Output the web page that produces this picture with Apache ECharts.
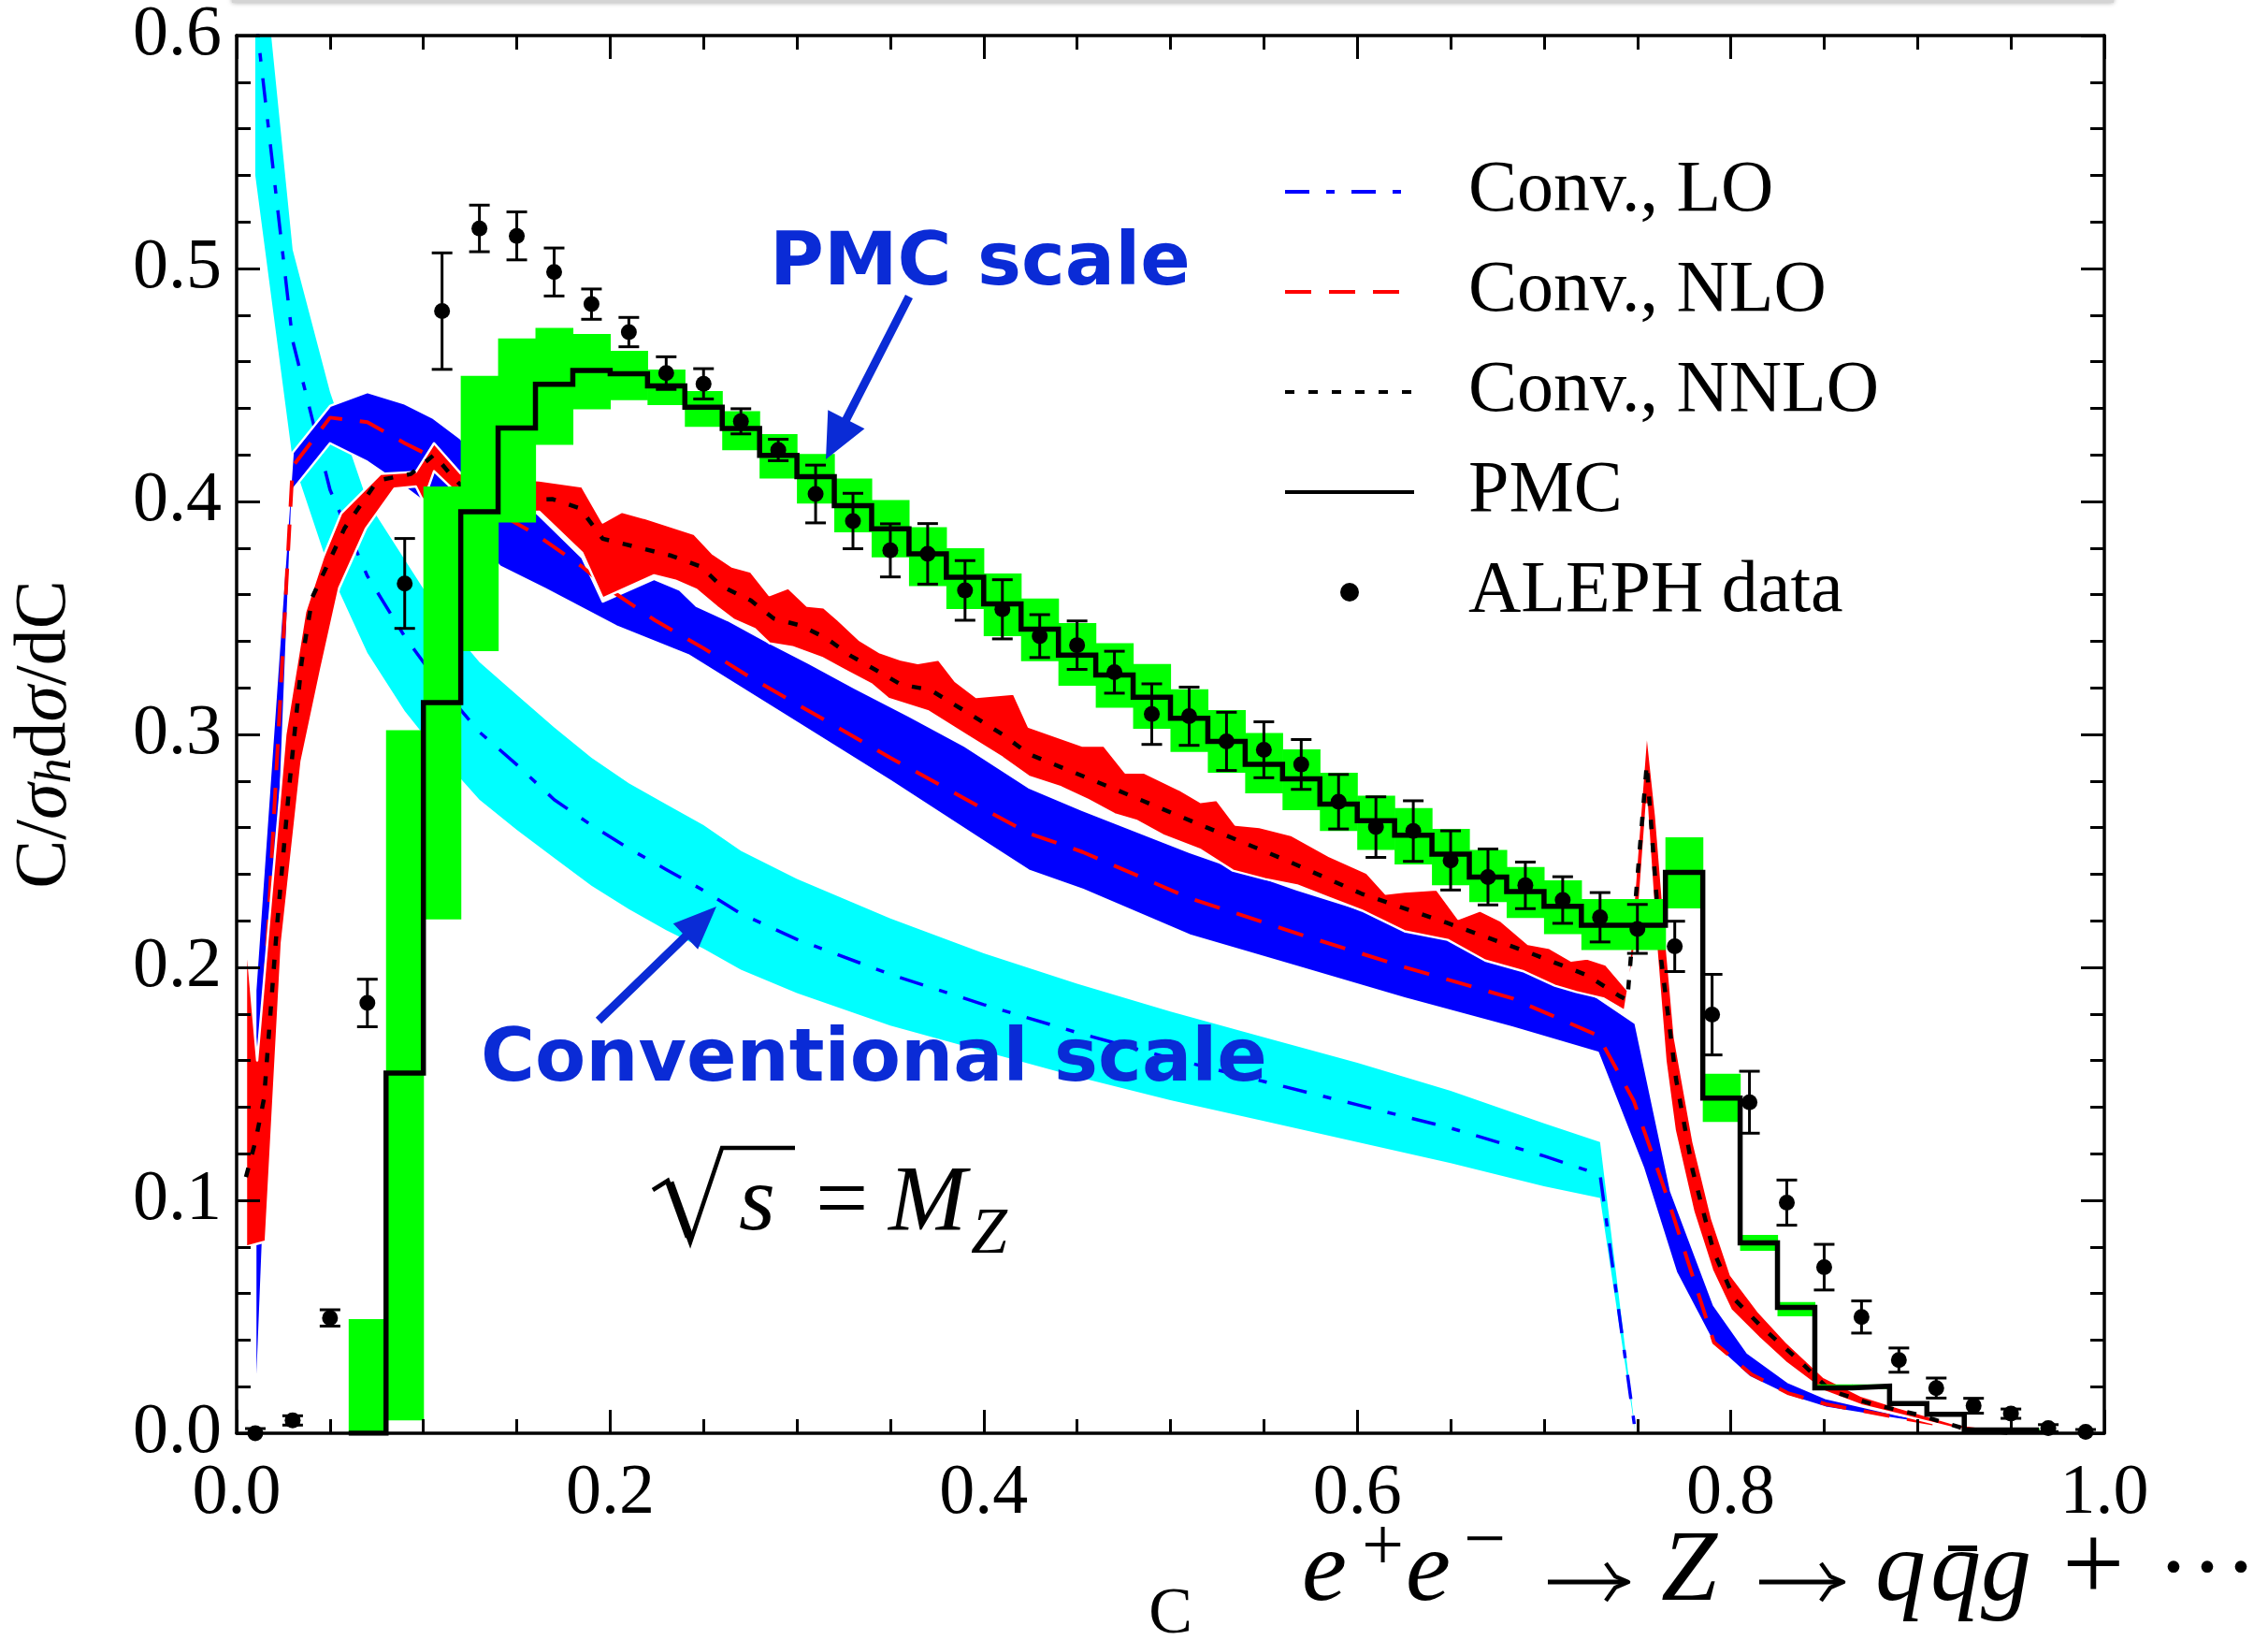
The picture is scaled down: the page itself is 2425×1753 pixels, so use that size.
<!DOCTYPE html>
<html><head><meta charset="utf-8">
<script src="https://cdn.jsdelivr.net/npm/echarts@6/dist/echarts.min.js"></script>
<style>html,body{margin:0;padding:0;background:#fff}#c{width:2425px;height:1753px}</style>
</head><body><div id="c"></div>
<script>
// ---------------- DATA ----------------
const xRange = [0, 1.0], yRange = [0, 0.6];
const xTickStep = 0.2, yTickStep = 0.1;

// Conventional LO (cyan band, blue dash-dot)
const loX = [0.01,0.03,0.05,0.07,0.09,0.11,0.13,0.15,0.17,0.19,0.21,0.23,0.25,0.27,0.30,0.35,0.40,0.45,0.50,0.55,0.60,0.65,0.70,0.73,0.749];
const loC = [0.61,0.469,0.405,0.368,0.342,0.320,0.301,0.287,0.272,0.261,0.251,0.242,0.233,0.223,0.212,0.197,0.184,0.172,0.161,0.151,0.141,0.131,0.119,0.111,0.0];
const loU = [0.668,0.508,0.447,0.40,0.375,0.35,0.331,0.317,0.303,0.29,0.279,0.27,0.261,0.25,0.238,0.221,0.206,0.193,0.181,0.170,0.159,0.147,0.133,0.125,0.0];
const loL = [0.54,0.418,0.370,0.335,0.31,0.29,0.272,0.259,0.247,0.235,0.225,0.216,0.208,0.199,0.189,0.175,0.164,0.153,0.143,0.134,0.125,0.116,0.106,0.101,0.0];

// Conventional NLO (blue band, red dashed)
const nloCX = [0.01,0.03,0.05,0.07,0.09,0.10,0.12,0.14,0.16,0.185,0.20,0.224,0.25,0.274,0.30,0.35,0.40,0.424,0.453,0.51,0.568,0.625,0.683,0.729,0.748,0.766,0.791,0.811,0.831,0.851,0.889,0.923,0.95];
const nloCY = [0.115,0.415,0.436,0.434,0.425,0.421,0.407,0.395,0.386,0.372,0.362,0.349,0.337,0.325,0.313,0.29,0.268,0.2576,0.2495,0.2298,0.2145,0.2002,0.1867,0.1707,0.1428,0.1013,0.039,0.0253,0.0171,0.0125,0.0068,0.0022,0.0005];
const nloUX = [0.01,0.03,0.05,0.07,0.09,0.105,0.12,0.14,0.162,0.185,0.196,0.2235,0.2373,0.2462,0.2629,0.2842,0.3066,0.3311,0.36,0.39,0.4241,0.4529,0.5104,0.5678,0.6253,0.6828,0.7288,0.749,0.768,0.791,0.809,0.831,0.851,0.889,0.923,0.95];
const nloUY = [0.19,0.421,0.441,0.447,0.442,0.436,0.427,0.41,0.394,0.376,0.357,0.3667,0.3621,0.3552,0.3491,0.3398,0.3306,0.3199,0.308,0.295,0.2773,0.2675,0.2495,0.2334,0.219,0.2065,0.187,0.176,0.104,0.055,0.0345,0.0218,0.015,0.008,0.003,0.001];
const nloLX = [0.01,0.03,0.05,0.07,0.09,0.10,0.12,0.141,0.165,0.2034,0.2418,0.30,0.35,0.40,0.4241,0.4529,0.5104,0.5678,0.6253,0.6828,0.7288,0.753,0.7707,0.791,0.81,0.831,0.851,0.889,0.923,0.95];
const nloLY = [0.0,0.405,0.425,0.417,0.406,0.400,0.39,0.372,0.3625,0.3463,0.334,0.305,0.28,0.254,0.2415,0.2334,0.2137,0.2002,0.1867,0.1742,0.1634,0.114,0.069,0.038,0.0241,0.016,0.011,0.006,0.002,0.0];

// Conventional NNLO (red band, black dotted)
const nnloCX = [0.005,0.01,0.0147,0.0214,0.0281,0.0348,0.0406,0.0578,0.0755,0.0933,0.1057,0.1153,0.12,0.14,0.169,0.184,0.196,0.2328,0.2484,0.2596,0.2753,0.2875,0.3021,0.3155,0.3289,0.3423,0.3557,0.3714,0.39,0.41,0.4241,0.4759,0.519,0.5621,0.6023,0.6484,0.6915,0.7231,0.7404,0.7446,0.755,0.7628,0.7707,0.7796,0.7907,0.802,0.8176,0.8354,0.8533,0.8757,0.90,0.925,0.95];
const nnloCY = [0.11,0.125,0.1438,0.2155,0.277,0.331,0.359,0.3885,0.409,0.4118,0.42,0.4109,0.407,0.40,0.401,0.397,0.384,0.3767,0.3721,0.3636,0.3575,0.3498,0.3467,0.3414,0.3337,0.3276,0.3214,0.3191,0.31,0.30,0.2916,0.2746,0.2602,0.2459,0.2316,0.219,0.2065,0.1966,0.1877,0.186,0.287,0.2028,0.152,0.1128,0.0783,0.0575,0.0448,0.0321,0.0183,0.0125,0.008,0.002,0.0];
const nnloUX = [0.005,0.011,0.0175,0.0261,0.0367,0.0463,0.0559,0.077,0.096,0.1057,0.12,0.14,0.162,0.185,0.196,0.2063,0.218,0.2451,0.2551,0.2652,0.2753,0.2853,0.2954,0.3055,0.3144,0.3222,0.3334,0.3445,0.3557,0.3647,0.3759,0.3848,0.396,0.4161,0.4241,0.4529,0.4644,0.4759,0.486,0.5046,0.5161,0.5248,0.5348,0.5477,0.565,0.5851,0.6052,0.6153,0.6253,0.6426,0.6541,0.6656,0.6771,0.6915,0.703,0.7145,0.7231,0.7331,0.7446,0.75,0.755,0.76,0.765,0.77,0.78,0.79,0.80,0.815,0.83,0.85,0.87,0.89,0.92,0.95];
const nnloUY = [0.215,0.16,0.2206,0.30,0.3526,0.376,0.3948,0.4118,0.4127,0.425,0.412,0.41,0.409,0.4064,0.391,0.3956,0.393,0.386,0.3775,0.3721,0.3699,0.3598,0.3629,0.3552,0.3545,0.3491,0.3406,0.3352,0.3321,0.3306,0.3321,0.3229,0.3161,0.3175,0.3033,0.2952,0.2952,0.2836,0.2836,0.2764,0.271,0.2719,0.2612,0.2602,0.2567,0.2477,0.2405,0.2316,0.2325,0.2334,0.2209,0.2244,0.2199,0.21,0.2083,0.2029,0.2038,0.2012,0.1904,0.25,0.303,0.265,0.215,0.17,0.125,0.092,0.068,0.052,0.039,0.024,0.016,0.011,0.004,0.001];
const nnloLX = [0.005,0.0156,0.0242,0.0348,0.0453,0.0549,0.0693,0.0845,0.096,0.10,0.1057,0.12,0.14,0.162,0.185,0.196,0.2235,0.235,0.2462,0.2574,0.2663,0.2774,0.2853,0.2976,0.3133,0.3255,0.34,0.349,0.37,0.39,0.41,0.4241,0.4414,0.4557,0.4701,0.4816,0.496,0.5161,0.5334,0.5506,0.5678,0.5851,0.6024,0.6253,0.6484,0.6685,0.6886,0.7058,0.7173,0.7317,0.7432,0.75,0.755,0.76,0.765,0.77,0.78,0.79,0.80,0.815,0.83,0.85,0.87,0.89,0.92,0.95];
const nnloLY = [0.08,0.0823,0.2104,0.2885,0.3282,0.3628,0.3885,0.4055,0.4064,0.40,0.413,0.402,0.395,0.3956,0.378,0.3584,0.3683,0.366,0.3621,0.3545,0.3491,0.3452,0.3391,0.3375,0.3329,0.3276,0.3214,0.3153,0.31,0.30,0.29,0.2819,0.2773,0.2719,0.2657,0.263,0.2567,0.2504,0.2415,0.2379,0.2352,0.2298,0.2244,0.2155,0.2118,0.2029,0.1984,0.1921,0.1894,0.1867,0.1813,0.215,0.27,0.21,0.16,0.13,0.095,0.07,0.053,0.041,0.03,0.018,0.012,0.008,0.002,0.0];

// PMC histogram (bin edges, central values, uncertainty band)
const pmcEdges = [0.06,0.08,0.10,0.12,0.14,0.16,0.18,0.20,0.22,0.24,0.26,0.28,0.30,0.32,0.34,0.36,0.38,0.40,0.42,0.44,0.46,0.48,0.50,0.52,0.54,0.56,0.58,0.60,0.62,0.64,0.66,0.68,0.70,0.72,0.765,0.785,0.805,0.825,0.845,0.865,0.885,0.905,0.925,0.965];
const pmcVals = [0.0,0.1546,0.3137,0.3956,0.4315,0.4503,0.4562,0.4548,0.4496,0.4405,0.4313,0.4198,0.4106,0.3982,0.3883,0.3775,0.3675,0.356,0.3452,0.334,0.3255,0.316,0.3069,0.297,0.2871,0.2809,0.2701,0.263,0.2567,0.2486,0.2388,0.2325,0.2262,0.2181,0.2408,0.1439,0.0817,0.054,0.0195,0.0202,0.0128,0.0081,0.0014];
const pmcLo = [0,0.0055,0.2206,0.3357,0.391,0.4243,0.4396,0.4435,0.4414,0.432,0.422,0.4098,0.3991,0.3867,0.376,0.3637,0.3538,0.3422,0.3314,0.3209,0.3114,0.3024,0.2925,0.2835,0.2747,0.2675,0.2585,0.2504,0.2442,0.2352,0.228,0.2212,0.2143,0.2074,0.2253,0.1336,0.0783,0.0502,0.0185,0.019,0.012,0.0075,0.001];
const pmcHi = [0.049,0.3018,0.4064,0.4539,0.47,0.4745,0.4719,0.4647,0.4566,0.4474,0.4388,0.4289,0.4204,0.4098,0.4006,0.389,0.3799,0.3691,0.3583,0.3478,0.3392,0.3302,0.3194,0.3104,0.3006,0.2936,0.2835,0.2737,0.2684,0.2594,0.2504,0.2431,0.2373,0.2293,0.2558,0.1543,0.0851,0.0563,0.021,0.021,0.0135,0.0088,0.002];

// ALEPH data
const dataC = [0.01,0.03,0.05,0.07,0.09,0.11,0.13,0.15,0.17,0.19,0.21,0.23,0.25,0.27,0.29,0.31,0.33,0.35,0.37,0.39,0.41,0.43,0.45,0.47,0.49,0.51,0.53,0.55,0.57,0.59,0.61,0.63,0.65,0.67,0.69,0.71,0.73,0.75,0.77,0.79,0.81,0.83,0.85,0.87,0.89,0.91,0.93,0.95,0.97,0.99];
const dataV = [0.0,0.0055,0.0495,0.1847,0.3648,0.4817,0.5172,0.514,0.4985,0.4847,0.4727,0.4551,0.4505,0.4344,0.4221,0.4032,0.3916,0.379,0.3775,0.3618,0.3537,0.3422,0.3383,0.3267,0.3087,0.3078,0.297,0.2934,0.2871,0.2711,0.2602,0.2585,0.2459,0.2388,0.2352,0.2289,0.2215,0.2165,0.209,0.1797,0.1421,0.099,0.0713,0.0499,0.0314,0.0194,0.0118,0.0084,0.0022,0.0006];
const dataErr = [0.002,0.002,0.0035,0.0102,0.0193,0.025,0.010,0.0103,0.0103,0.0065,0.0063,0.007,0.0065,0.0054,0.0046,0.0124,0.0119,0.0114,0.013,0.0128,0.0127,0.0092,0.0104,0.009,0.013,0.0125,0.0125,0.012,0.0107,0.0117,0.013,0.013,0.0127,0.012,0.010,0.010,0.0106,0.0105,0.0108,0.0173,0.0133,0.0097,0.0098,0.0069,0.0052,0.0043,0.0032,0.002,0.0015,0.001];

const legendNames = ['Conv., LO','Conv., NLO','Conv., NNLO','PMC','ALEPH data'];

// ---------------- STYLE ----------------
const SERIF = 'Liberation Serif';
const ANNO = '#0a2bd6';
const zip = (xs, ys) => xs.map((x, i) => [x, ys[i]]);

function bandSeries(name, xU, yU, xL, yL, fill, stroke, z) {
  const pts = zip(xU, yU).concat(zip(xL, yL).reverse());
  return {
    type: 'custom', name: name, z: z, clip: true, silent: true,
    data: pts,
    encode: {x: 0, y: 1},
    renderItem: function (params, api) {
      if (params.dataIndex !== 0) return null;
      const poly = pts.map(p => api.coord(p));
      return {type: 'polygon', shape: {points: poly},
        style: {fill: fill, stroke: stroke || null, lineWidth: stroke ? 2.5 : 0, lineJoin: 'round'}};
    }
  };
}

function axisCommon(extra) {
  return Object.assign({
    type: 'value',
    z: 20,
    axisLine: {onZero: false, lineStyle: {color: '#000', width: 3.5}},
    axisTick: {inside: true, length: 25, lineStyle: {color: '#000', width: 3}},
    minorTick: {show: true, length: 15, lineStyle: {color: '#000', width: 3}},
    splitLine: {show: false}, minorSplitLine: {show: false}
  }, extra);
}

const pmcStep = pmcVals.map((v, i) => [pmcEdges[i], v]).concat([[pmcEdges[pmcEdges.length - 1], pmcVals[pmcVals.length - 1]]]);
const pmcBins = pmcVals.map((v, i) => [pmcEdges[i], pmcEdges[i + 1], pmcLo[i], pmcHi[i]]);
const errRows = dataC.map((c, i) => [c, dataV[i], dataErr[i]]);

// arrow helper (annotation geometry, pixel space)
function arrow(x1, y1, x2, y2, shaftW, headL, headW) {
  const dx = x2 - x1, dy = y2 - y1, L = Math.hypot(dx, dy);
  const ux = dx / L, uy = dy / L, nx = -uy, ny = ux;
  const bx = x2 - ux * headL, by = y2 - uy * headL;
  const h = shaftW / 2, w = headW / 2;
  return {type: 'polygon', z: 50, shape: {points: [
    [x1 + nx * h, y1 + ny * h], [bx + nx * h, by + ny * h], [bx + nx * w, by + ny * w], [x2, y2],
    [bx - nx * w, by - ny * w], [bx - nx * h, by - ny * h], [x1 - nx * h, y1 - ny * h]]},
    style: {fill: ANNO}};
}
// thin math arrow "→"
function mathArrow(x1, x2, y) {
  return {type: 'group', z: 50, children: [
    {type: 'line', z: 50, shape: {x1: x1, y1: y, x2: x2 - 3, y2: y}, style: {stroke: '#000', lineWidth: 5}},
    {type: 'polyline', z: 50, shape: {points: [[x2 - 24, y - 20], [x2 - 14, y - 6], [x2, y], [x2 - 14, y + 6], [x2 - 24, y + 20]]},
      style: {stroke: '#000', lineWidth: 4.5, fill: null, lineJoin: 'round'}}
  ]};
}
function txt(text, x, y, size, opts) {
  opts = opts || {};
  return {type: 'text', x: x, y: y, z: 50, style: Object.assign({
    text: text, fill: '#000', fontFamily: SERIF, fontSize: size,
    textAlign: 'left', textVerticalAlign: 'middle', align: 'left', verticalAlign: 'middle'}, opts)};
}

const graphics = [
  {type: 'rect', z: 0, shape: {x: 248, y: -20, width: 2012, height: 23}, style: {fill: '#d4d4d4', shadowBlur: 5, shadowColor: 'rgba(0,0,0,0.35)'}},
  txt('PMC scale', 823, 283, 79, {fill: ANNO, fontFamily: 'DejaVu Sans', fontWeight: 'bold'}),
  txt('Conventional scale', 514, 1134, 79, {fill: ANNO, fontFamily: 'DejaVu Sans', fontWeight: 'bold'}),
  arrow(972, 317, 883, 491, 9, 48, 44),
  arrow(640, 1091, 766, 969, 9, 46, 38),
  // sqrt(s) = M_Z
  {type: 'polyline', z: 50, shape: {points: [[698, 1272], [714, 1262], [738, 1328], [772, 1227], [850, 1227]]}, style: {stroke: '#000', lineWidth: 4.5, fill: null, lineJoin: 'miter'}},
  {type: 'polyline', z: 50, shape: {points: [[716, 1264], [737, 1322]]}, style: {stroke: '#000', lineWidth: 9, fill: null}},
  txt('s', 790, 1288, 100, {fontStyle: 'italic'}),
  txt('=', 872, 1288, 100),
  txt('M', 950, 1288, 100, {fontStyle: 'italic'}),
  txt('Z', 1038, 1321, 70, {fontStyle: 'italic'}),
  // e+e- -> Z -> q qbar g + ...
  txt('e', 1392, 1682, 108, {fontStyle: 'italic'}),
  txt('+', 1456, 1657, 80),
  txt('e', 1503, 1682, 108, {fontStyle: 'italic'}),
  txt('\u2212', 1565, 1650, 80),
  mathArrow(1655, 1741, 1691),
  txt('Z', 1776, 1682, 108, {fontStyle: 'italic'}),
  mathArrow(1881, 1971, 1691),
  txt('q', 2005, 1682, 108, {fontStyle: 'italic'}),
  txt('q', 2064, 1682, 108, {fontStyle: 'italic'}),
  {type: 'line', z: 50, shape: {x1: 2083, y1: 1655, x2: 2114, y2: 1655}, style: {stroke: '#000', lineWidth: 6}},
  txt('g', 2118, 1682, 108, {fontStyle: 'italic'}),
  txt('+', 2205, 1680, 118),
  txt('\u00b7\u00b7\u00b7', 2306, 1682, 108)
];

const option = {
  animation: false,
  backgroundColor: '#fff',
  grid: {left: 253, top: 38, right: 175, bottom: 221, containLabel: false, outerBoundsMode: 'none'},
  xAxis: [
    axisCommon({min: xRange[0], max: xRange[1], interval: xTickStep, position: 'bottom',
      minorTick: {show: true, splitNumber: 4, length: 15, lineStyle: {color: '#000', width: 3}},
      name: 'C', nameLocation: 'middle', nameGap: 160,
      nameTextStyle: {fontFamily: SERIF, fontSize: 70, color: '#000'},
      axisLabel: {fontFamily: SERIF, fontSize: 76, color: '#000', margin: 27, formatter: v => v.toFixed(1)}}),
    axisCommon({min: xRange[0], max: xRange[1], interval: xTickStep, position: 'top',
      minorTick: {show: true, splitNumber: 4, length: 15, lineStyle: {color: '#000', width: 3}},
      axisLabel: {show: false}})
  ],
  yAxis: [
    axisCommon({min: yRange[0], max: yRange[1], interval: yTickStep, position: 'left',
      minorTick: {show: true, splitNumber: 5, length: 15, lineStyle: {color: '#000', width: 3}},
      name: '{n|C/}{i|σ}{s|h}{n|d}{i|σ}{n|/dC}', nameLocation: 'middle', nameRotate: 90, nameGap: 165,
      nameTextStyle: {fontFamily: SERIF, fontSize: 78, color: '#000', rich: {
        n: {fontFamily: SERIF, fontSize: 78, lineHeight: 78, verticalAlign: 'top'},
        i: {fontFamily: SERIF, fontSize: 78, lineHeight: 78, fontStyle: 'italic', verticalAlign: 'top'},
        s: {fontFamily: SERIF, fontSize: 54, lineHeight: 54, fontStyle: 'italic', verticalAlign: 'bottom', padding: [48, 0, 0, 0]}
      }},
      axisLabel: {fontFamily: SERIF, fontSize: 76, color: '#000', margin: 16, formatter: v => v.toFixed(1)}}),
    axisCommon({min: yRange[0], max: yRange[1], interval: yTickStep, position: 'right',
      minorTick: {show: true, splitNumber: 5, length: 15, lineStyle: {color: '#000', width: 3}},
      axisLabel: {show: false}})
  ],
  legend: {
    orient: 'vertical', left: 1367, top: 161, itemWidth: 138, itemHeight: 20, itemGap: 29,
    selectedMode: false,
    textStyle: {fontFamily: SERIF, fontSize: 78, color: '#000', lineHeight: 78, padding: [0, 0, 0, 53]},
    lineStyle: {width: 4},
    itemStyle: {opacity: 0},
    data: [
      {name: legendNames[0]}, {name: legendNames[1]}, {name: legendNames[2]}, {name: legendNames[3]},
      {name: legendNames[4], icon: 'circle', itemStyle: {opacity: 1, color: '#000'}}
    ]
  },
  graphic: graphics,
  series: [
    bandSeries('LO band', loX, loU, loX, loL, '#00ffff', null, 1),
    {type: 'line', name: legendNames[0], z: 2, data: zip(loX, loC), symbol: 'none', showSymbol: false,
      lineStyle: {color: '#0000ff', width: 3.5, type: [26, 18, 9, 18]}, itemStyle: {color: '#0000ff'}},
    bandSeries('NLO band', nloUX, nloUY, nloLX, nloLY, '#0000ff', '#ffffff', 3),
    {type: 'line', name: legendNames[1], z: 4, data: zip(nloCX, nloCY), symbol: 'none', showSymbol: false,
      lineStyle: {color: '#ff0000', width: 4, type: [28, 19]}, itemStyle: {color: '#ff0000'}},
    bandSeries('NNLO band', nnloUX, nnloUY, nnloLX, nnloLY, '#ff0000', '#ffffff', 5),
    {type: 'line', name: legendNames[2], z: 6, data: zip(nnloCX, nnloCY), symbol: 'none', showSymbol: false,
      lineStyle: {color: '#000000', width: 4.5, type: [10, 15]}, itemStyle: {color: '#000'}},
    {type: 'custom', name: 'PMC band', z: 7, clip: true, silent: true, data: pmcBins,
      encode: {x: [0, 1], y: [2, 3]},
      renderItem: function (params, api) {
        const a = api.coord([api.value(0), api.value(3)]);
        const b = api.coord([api.value(1), api.value(2)]);
        return {type: 'rect', shape: {x: a[0], y: a[1], width: b[0] - a[0] + 0.6, height: b[1] - a[1]},
          style: {fill: '#00ff00'}};
      }},
    {type: 'line', name: legendNames[3], z: 8, data: pmcStep, step: 'end', symbol: 'none', showSymbol: false,
      lineStyle: {color: '#000', width: 5.5, join: 'miter'}, itemStyle: {color: '#000'}},
    {type: 'custom', name: 'ALEPH errors', z: 29, clip: true, silent: true, data: errRows,
      encode: {x: 0, y: 1},
      renderItem: function (params, api) {
        const x = api.value(0), v = api.value(1), e = api.value(2);
        const t = api.coord([x, v + e]), b = api.coord([x, v - e]);
        const hw = 11, st = {stroke: '#000', lineWidth: 3};
        return {type: 'group', children: [
          {type: 'line', shape: {x1: t[0], y1: t[1], x2: b[0], y2: b[1]}, style: st},
          {type: 'line', shape: {x1: t[0] - hw, y1: t[1], x2: t[0] + hw, y2: t[1]}, style: st},
          {type: 'line', shape: {x1: b[0] - hw, y1: b[1], x2: b[0] + hw, y2: b[1]}, style: st}
        ]};
      }},
    {type: 'scatter', name: legendNames[4], z: 30, data: zip(dataC, dataV), symbol: 'circle', symbolSize: 17,
      itemStyle: {color: '#000', opacity: 1}}
  ]
};

const chart = echarts.init(document.getElementById('c'), null, {renderer: 'canvas'});
chart.setOption(option);
</script>
</body></html>
